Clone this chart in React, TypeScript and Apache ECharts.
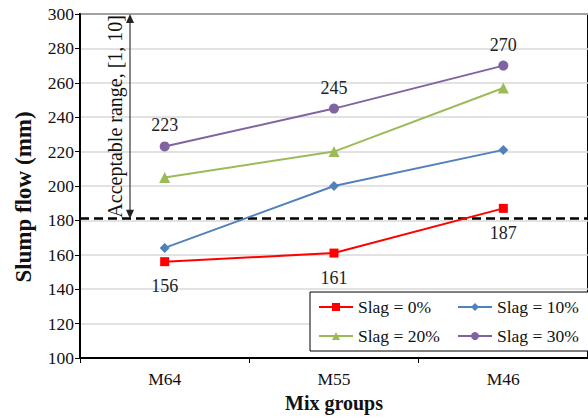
import React, { useEffect, useRef } from "react";
import * as echarts from "echarts";

const categories = ["M64", "M55", "M46"];
const slag0 = [156, 161, 187];
const slag10 = [164, 200, 221];
const slag20 = [205, 220, 257];
const slag30 = [223, 245, 270];
const seriesNames = ["Slag = 0%", "Slag = 10%", "Slag = 20%", "Slag = 30%"];
const yTicks = { min: 100, max: 300, interval: 20 };
const thresholdValue = 181;
const rangeText = "Acceptable range, [1, 10]";

const FONT = "Liberation Serif";

export default function App() {
  const ref = useRef<HTMLDivElement>(null);
  useEffect(() => {
    document.body.style.margin = "0";
    const chart = echarts.init(ref.current!, null, { renderer: "svg" });
    const mk = (name: string, data: number[], color: string, symbol: string, size: number, label?: any) => ({
      name,
      type: "line",
      data,
      symbol,
      symbolSize: size,
      lineStyle: { color, width: 2 },
      itemStyle: { color },
      label: label,
      z: 3,
    });
    const legendCommon = {
      top: 292,
      orient: "vertical",
      padding: [6, 8, 6, 8],
      itemGap: 11,
      itemWidth: 34,
      itemHeight: 10,
      textStyle: { fontFamily: FONT, fontSize: 17.5, color: "#111" },
      z: 10,
    };
    chart.setOption({
      animation: false,
      backgroundColor: "#fff",
      textStyle: { fontFamily: FONT },
      grid: {
        left: 80,
        right: -8,
        top: 14,
        bottom: 59,
        show: true,
        borderColor: "#000",
        borderWidth: 2,
      },
      legend: [
        { ...legendCommon, left: 310, data: [seriesNames[0], seriesNames[2]] },
        { ...legendCommon, left: 449, data: [seriesNames[1], seriesNames[3]] },
      ],
      xAxis: {
        type: "category",
        data: categories,
        boundaryGap: true,
        name: "Mix groups",
        nameLocation: "middle",
        nameGap: 35,
        nameTextStyle: { fontFamily: FONT, fontSize: 20, fontWeight: "bold", color: "#111" },
        axisLine: { lineStyle: { color: "#000", width: 2 } },
        axisTick: { show: true, length: 5, lineStyle: { color: "#000" } },
        axisLabel: { fontFamily: FONT, fontSize: 17.5, color: "#111", margin: 12 },
      },
      yAxis: {
        type: "value",
        min: yTicks.min,
        max: yTicks.max,
        interval: yTicks.interval,
        name: "Slump flow (mm)",
        nameLocation: "middle",
        nameGap: 45,
        nameTextStyle: {
          fontFamily: FONT,
          fontSize: 23,
          fontWeight: "bold",
          color: "#111",
          padding: [0, 22, 0, 0],
        },
        axisLine: { show: true, lineStyle: { color: "#000", width: 2 } },
        axisTick: { show: true, length: 5, lineStyle: { color: "#000" } },
        axisLabel: { fontFamily: FONT, fontSize: 17.5, color: "#111", margin: 6 },
        splitLine: { lineStyle: { color: "#d9d9d9", width: 1.5 } },
      },
      series: [
        {
          ...mk(seriesNames[0], slag0, "#ff0000", "rect", 9, {
            show: true,
            position: "bottom",
            distance: 11,
            fontFamily: FONT,
            fontSize: 18,
            color: "#222",
          }),
          markLine: {
            silent: true,
            symbol: ["none", "none"],
            label: { show: false },
            lineStyle: { color: "#000", type: [9, 5], width: 2.5 },
            data: [{ yAxis: thresholdValue }],
            z: 2,
          },
        },
        mk(seriesNames[1], slag10, "#4f81bd", "diamond", 10),
        mk(seriesNames[2], slag20, "#9bbb59", "triangle", 11),
        mk(seriesNames[3], slag30, "#8064a2", "circle", 10, {
          show: true,
          position: "top",
          distance: 7,
          fontFamily: FONT,
          fontSize: 18,
          color: "#222",
        }),
      ],
    });
    const yTop = chart.convertToPixel({ yAxisIndex: 0 }, yTicks.max) as number;
    const yBot = chart.convertToPixel({ yAxisIndex: 0 }, thresholdValue) as number;
    const ax = 130;
    chart.setOption({
      graphic: [
        {
          type: "rect",
          shape: { x: 310, y: 292, width: 290, height: 59 },
          style: { fill: "#fff", stroke: "#000", lineWidth: 1 },
          z: 8,
        },
        {
          type: "line",
          shape: { x1: ax, y1: yTop + 6, x2: ax, y2: yBot - 6 },
          style: { stroke: "#444", lineWidth: 1.3 },
          z: 5,
        },
        {
          type: "polygon",
          shape: { points: [[ax, yTop], [ax - 4, yTop + 9], [ax + 4, yTop + 9]] },
          style: { fill: "#222" },
          z: 5,
        },
        {
          type: "polygon",
          shape: { points: [[ax, yBot], [ax - 4, yBot - 9], [ax + 4, yBot - 9]] },
          style: { fill: "#222" },
          z: 5,
        },
        {
          type: "text",
          x: 115,
          y: (yTop + yBot) / 2,
          rotation: Math.PI / 2,
          style: {
            text: rangeText,
            fontFamily: FONT,
            fontSize: 20,
            fill: "#111",
            align: "center",
            verticalAlign: "middle",
          },
          z: 5,
        },
      ],
    });
    return () => chart.dispose();
  }, []);
  return <div ref={ref} style={{ width: 588, height: 418 }} />;
}
